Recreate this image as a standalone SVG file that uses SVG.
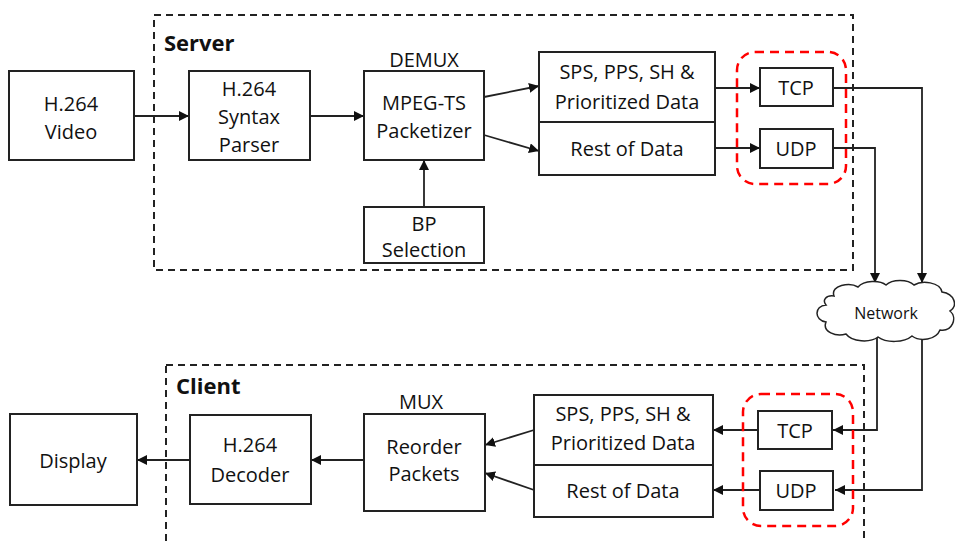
<svg xmlns="http://www.w3.org/2000/svg" width="955" height="543" viewBox="0 0 955 543">
<defs>
<style>
.box{fill:#fff;stroke:#222;stroke-width:2}
.dash{fill:none;stroke:#222;stroke-width:2;stroke-dasharray:7,5}
.red{fill:none;stroke:#f00;stroke-width:2.5;stroke-dasharray:9,6}
.ln{fill:none;stroke:#222;stroke-width:1.8}
text{font-family:"Open Sans","Noto Sans",sans-serif;font-size:20px;fill:#111;text-anchor:middle}
.lbl{font-weight:bold;font-size:22px;text-anchor:start}
.net{font-size:16px}
</style>
<marker id="ah" viewBox="0 0 10 10" refX="10" refY="5" markerWidth="10" markerHeight="10" markerUnits="userSpaceOnUse" orient="auto">
<path d="M0,0 L10,5 L0,10 Z" fill="#111"/>
</marker>
</defs>

<g id="server">
<rect class="dash" x="154" y="15" width="699" height="255"/>
<text class="lbl" x="164" y="51">Server</text>
</g>
<g id="client">
<rect class="dash" x="166" y="365" width="698" height="200"/>
<text class="lbl" x="176" y="394">Client</text>
</g>

<g id="connectors">
<line class="ln" x1="134" y1="116" x2="189" y2="116" marker-end="url(#ah)"/>
<line class="ln" x1="310" y1="116" x2="364" y2="116" marker-end="url(#ah)"/>
<line class="ln" x1="424" y1="207" x2="424" y2="160" marker-end="url(#ah)"/>
<line class="ln" x1="484" y1="97" x2="539" y2="86" marker-end="url(#ah)"/>
<line class="ln" x1="484" y1="135" x2="539" y2="151" marker-end="url(#ah)"/>
<line class="ln" x1="715" y1="88" x2="760" y2="88" marker-end="url(#ah)"/>
<line class="ln" x1="715" y1="148" x2="760" y2="148" marker-end="url(#ah)"/>
<polyline class="ln" points="833,88 922,88 922,283" marker-end="url(#ah)"/>
<polyline class="ln" points="833,148 875,148 875,283" marker-end="url(#ah)"/>
<polyline class="ln" points="877,338 877,430 833,430" marker-end="url(#ah)"/>
<polyline class="ln" points="922,336 922,490 835,490" marker-end="url(#ah)"/>
<line class="ln" x1="758" y1="430" x2="713" y2="430" marker-end="url(#ah)"/>
<line class="ln" x1="760" y1="490" x2="713" y2="490" marker-end="url(#ah)"/>
<line class="ln" x1="534" y1="430" x2="485" y2="445" marker-end="url(#ah)"/>
<line class="ln" x1="534" y1="490" x2="485" y2="473" marker-end="url(#ah)"/>
<line class="ln" x1="364" y1="460" x2="311" y2="460" marker-end="url(#ah)"/>
<line class="ln" x1="190" y1="460" x2="137" y2="460" marker-end="url(#ah)"/>
</g>

<g id="h264video">
<rect class="box" x="9" y="71" width="125" height="89"/>
<text x="71" y="111">H.264</text>
<text x="71" y="139">Video</text>
</g>
<g id="parser">
<rect class="box" x="189" y="71" width="121" height="89"/>
<text x="249" y="96">H.264</text>
<text x="249" y="124">Syntax</text>
<text x="249" y="152">Parser</text>
</g>
<g id="packetizer">
<text x="424" y="67">DEMUX</text>
<rect class="box" x="364" y="71" width="120" height="89"/>
<text x="424" y="110">MPEG-TS</text>
<text x="424" y="138">Packetizer</text>
</g>
<g id="bpselection">
<rect class="box" x="364" y="207" width="120" height="56"/>
<text x="424" y="231">BP</text>
<text x="424" y="257">Selection</text>
</g>
<g id="s_prio">
<rect class="box" x="539" y="52" width="176" height="70"/>
<text x="627" y="79">SPS, PPS, SH &amp;</text>
<text x="627" y="109">Prioritized Data</text>
</g>
<g id="s_rest">
<rect class="box" x="539" y="122" width="176" height="53"/>
<text x="627" y="156">Rest of Data</text>
</g>
<g id="s_proto">
<rect class="red" x="737" y="52" width="109" height="132" rx="18"/>
</g>
<g id="s_tcp">
<rect class="box" x="760" y="68" width="73" height="38"/>
<text x="796" y="95">TCP</text>
</g>
<g id="s_udp">
<rect class="box" x="760" y="129" width="73" height="39"/>
<text x="796" y="156">UDP</text>
</g>

<g id="network">
<path d="M834,296 C830,285 850,282 858,287 C864,280 880,280 886,285 C892,279 908,279 914,285 C922,280 940,282 942,292 C955,294 958,306 950,311 C958,318 952,332 940,330 C936,340 920,342 912,336 C904,343 886,343 878,337 C870,343 852,342 846,334 C836,337 822,332 826,322 C814,320 814,306 826,305 C822,300 826,295 834,296 Z" fill="#fff" stroke="#222" stroke-width="1.5"/>
<text class="net" x="886" y="319">Network</text>
</g>

<g id="c_proto">
<rect class="red" x="743" y="394" width="110" height="132" rx="18"/>
</g>
<g id="c_tcp">
<rect class="box" x="758" y="411" width="74" height="38"/>
<text x="795" y="438">TCP</text>
</g>
<g id="c_udp">
<rect class="box" x="760" y="471" width="73" height="39"/>
<text x="796" y="498">UDP</text>
</g>
<g id="c_prio">
<rect class="box" x="534" y="395" width="179" height="70"/>
<text x="623" y="421">SPS, PPS, SH &amp;</text>
<text x="623" y="450">Prioritized Data</text>
</g>
<g id="c_rest">
<rect class="box" x="534" y="465" width="179" height="52"/>
<text x="623" y="498">Rest of Data</text>
</g>
<g id="reorder">
<text x="421" y="409">MUX</text>
<rect class="box" x="364" y="414" width="121" height="97"/>
<text x="424" y="454">Reorder</text>
<text x="424" y="481">Packets</text>
</g>
<g id="decoder">
<rect class="box" x="190" y="415" width="121" height="89"/>
<text x="250" y="452">H.264</text>
<text x="250" y="482">Decoder</text>
</g>
<g id="display">
<rect class="box" x="10" y="414" width="127" height="91"/>
<text x="73" y="468">Display</text>
</g>
</svg>
